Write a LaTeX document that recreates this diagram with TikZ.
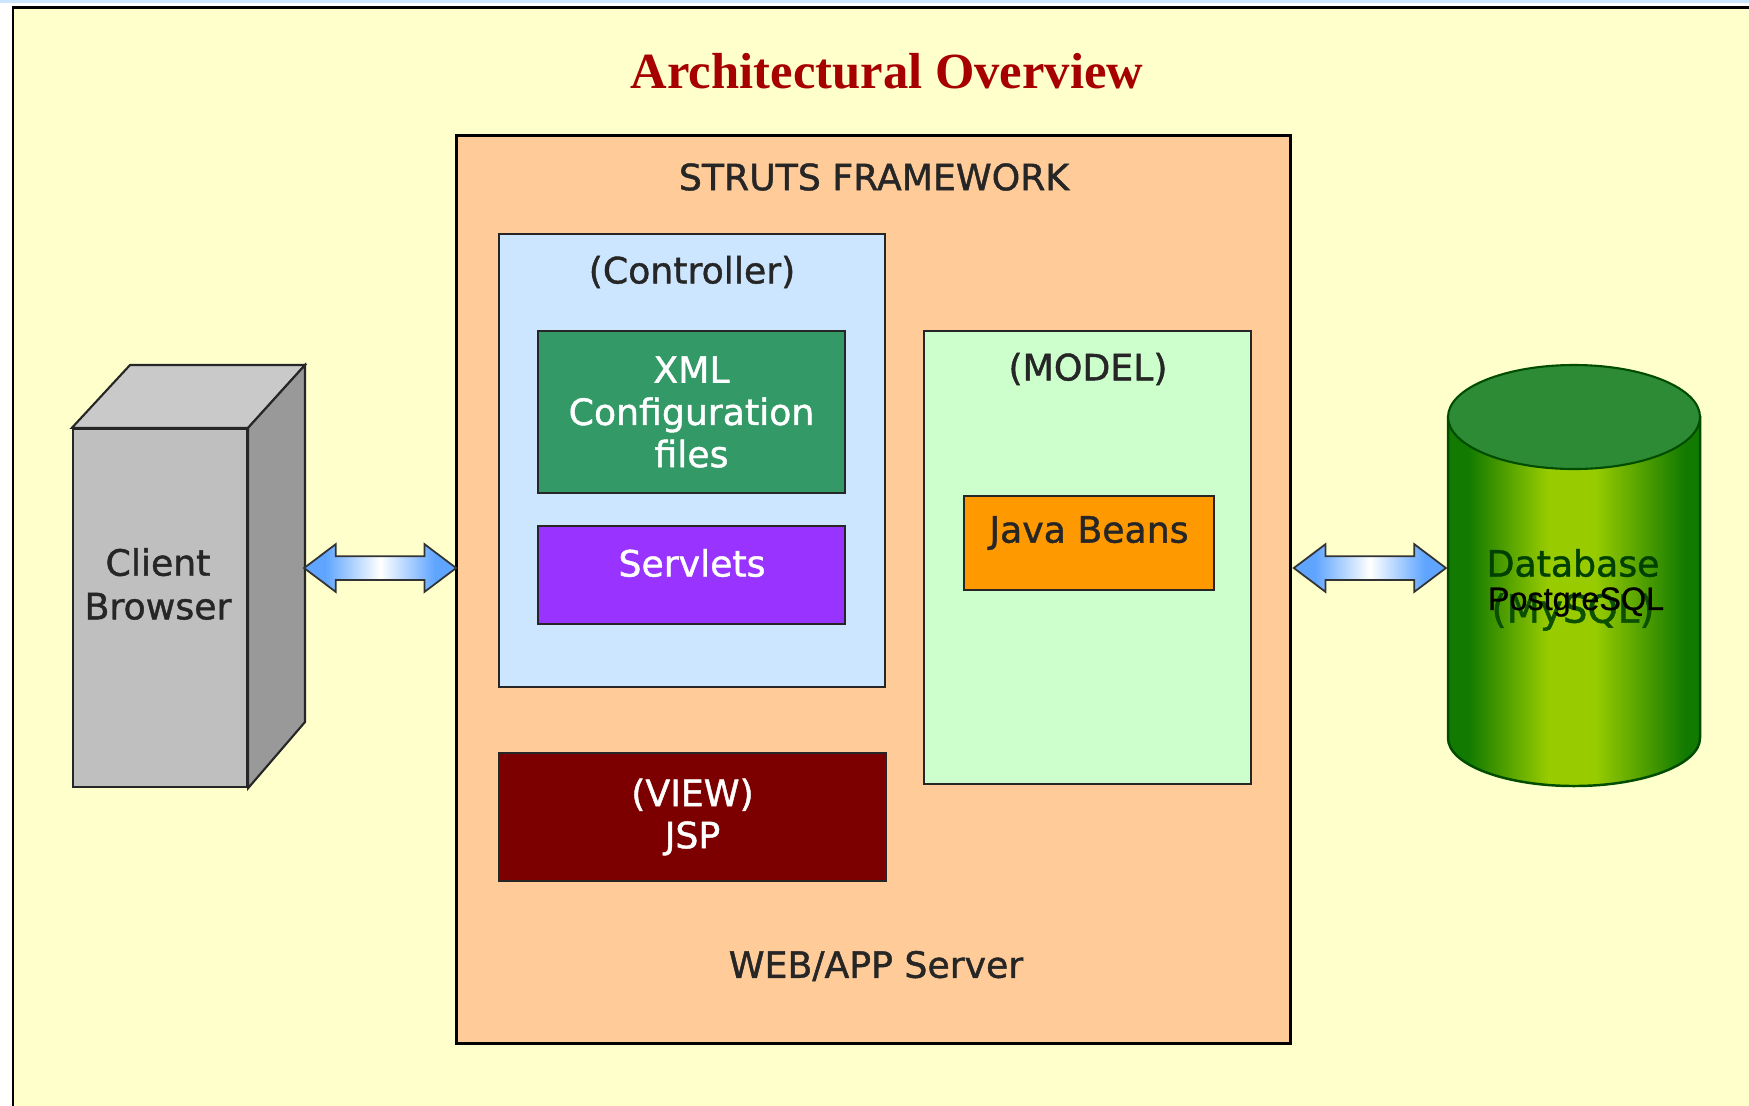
\documentclass[tikz,border=0pt]{standalone}
\usepackage{fontspec}
\setmainfont{DejaVu Sans}[FakeBold=1.2]
\newfontfamily\titlefont{Liberation Serif}
\newfontfamily\overfont{Liberation Sans}[FakeBold=0.8]
\usetikzlibrary{shapes.geometric, shapes.arrows, positioning, calc}
\definecolor{pagecream}{HTML}{FFFFCC}
\definecolor{strutsorange}{HTML}{FFCC99}
\definecolor{ctrlblue}{HTML}{CCE6FF}
\definecolor{xmlgreen}{HTML}{339966}
\definecolor{servletpurple}{HTML}{9933FF}
\definecolor{viewred}{HTML}{7D0000}
\definecolor{modelgreen}{HTML}{CCFFCC}
\definecolor{beansorange}{HTML}{FF9900}
\definecolor{dbedge}{HTML}{127A00}
\definecolor{dbmid}{HTML}{99CC00}
\definecolor{dbtop}{HTML}{2E8B35}
\definecolor{arrowblue}{HTML}{5FA5FF}
\pgfdeclarehorizontalshading{dbshade}{100bp}{color(0bp)=(dbedge); color(29bp)=(dbedge); color(45bp)=(dbmid); color(54bp)=(dbmid); color(72bp)=(dbedge); color(100bp)=(dbedge)}
\pgfdeclarehorizontalshading{linkshade}{100bp}{color(0bp)=(arrowblue); color(32bp)=(arrowblue); color(50bp)=(white); color(68bp)=(arrowblue); color(100bp)=(arrowblue)}

\begin{document}
\begin{tikzpicture}[
    x=0.01cm, y=-0.01cm,
    box/.style={rectangle, draw=black!85, line width=0.6pt, inner sep=0pt, align=center, font=\fontsize{10.3}{12}\selectfont},
    caption/.style={inner sep=0pt, align=center, font=\fontsize{10.3}{12.4}\selectfont, text=black!85},
    whitecaption/.style={caption, text=white},
    linkarrow/.style={double arrow, draw=black!80, line width=0.5pt, inner xsep=0pt, inner ysep=0.11cm, minimum height=1.52cm, minimum width=0.46cm,
        double arrow head extend=0.12cm, double arrow tip angle=74, shading=linkshade, shading angle=0}
]
    % Page
    \clip (0,0) rectangle (1749,1105);
    \fill[white] (0,0) rectangle (1749,1105);
    \fill[ctrlblue] (0,0) rectangle (1749,3);
    \draw[fill=pagecream, line width=0.85pt] (13,7) rectangle (1770,1125);
    \node[inner sep=0pt, text=red!65!black, font=\titlefont\bfseries\fontsize{14.4}{16}\selectfont] (title) at (887,71) {Architectural Overview};

    % Server box
    \node[box, draw=black, line width=0.85pt, fill=strutsorange, minimum width=8.33cm, minimum height=9.07cm] (struts) at (873.5,589.5) {};
    \node[caption] (strutslabel) at (874,177) {STRUTS FRAMEWORK};
    \node[caption] (serverlabel) at (876,966) {WEB/APP Server};

    % Controller
    \node[box, fill=ctrlblue, minimum width=3.86cm, minimum height=4.53cm] (controller) at (692,460.5) {};
    \node[caption] (controllerlabel) at (692,272) {(Controller)};
    \node[box, fill=xmlgreen, text=white, minimum width=3.07cm, minimum height=1.62cm] (xml) at (691.5,412) {XML\\Configuration\\files};
    \node[box, fill=servletpurple, minimum width=3.07cm, minimum height=0.98cm] (servlets) at (691.5,575) {};
    \node[whitecaption] (servletslabel) at (692,563) {Servlets};

    % View
    \node[box, fill=viewred, text=white, minimum width=3.87cm, minimum height=1.28cm] (view) at (692.5,817) {(VIEW)\\JSP};

    % Model
    \node[box, fill=modelgreen, minimum width=3.27cm, minimum height=4.53cm] (model) at (1087.5,557.5) {};
    \node[caption] (modellabel) at (1088,369) {(MODEL)};
    \node[box, fill=beansorange, minimum width=2.50cm, minimum height=0.94cm] (beans) at (1089,543) {};
    \node[caption] (beanslabel) at (1089,533) {Java Beans};

    % Client browser
    \node[box, fill=black!25, minimum width=1.74cm, minimum height=3.58cm] (client) at (160,608) {};
    \draw[draw=black!85, line width=0.6pt, fill=black!21] (client.north west) -- (130,365) -- (305,365) -- (client.north east) -- cycle;
    \draw[draw=black!85, line width=0.6pt, fill=black!40] (client.north east) -- (305,365) -- (305,722) -- (client.south east) -- cycle;
    \coordinate (clientside) at (305,568);
    \node[caption] (clientlabel) at (158,584) {Client\\Browser};

    % Database
    \coordinate (databaseside) at (1448,568);
    \draw[draw=black!70!green, line width=0.7pt, shading=dbshade, shading angle=0] (1448,417) -- (1448,738) arc[start angle=180, end angle=0, x radius=126, y radius=48] -- (1700,417) -- cycle;
    \draw[draw=black!70!green, line width=0.6pt, fill=dbtop] (1574,417) ellipse [x radius=126, y radius=52];
    \node[caption, text=black!75!green] (dblabel) at (1573,563) {Database};
    \node[caption, text=dbedge!65!black, font=\fontsize{11}{13}\selectfont] (mysqllabel) at (1573,612) {(MySQL)};
    \node[inner sep=0pt, text=black, font=\overfont\fontsize{9.2}{11}\selectfont] (pglabel) at (1576,602) {PostgreSQL};

    % Links
    \path (clientside) -- node[linkarrow] (clientlink) {} (struts.west |- clientside);
    \path (struts.east |- clientside) -- node[linkarrow] (databaselink) {} (databaseside);
\end{tikzpicture}
\end{document}
